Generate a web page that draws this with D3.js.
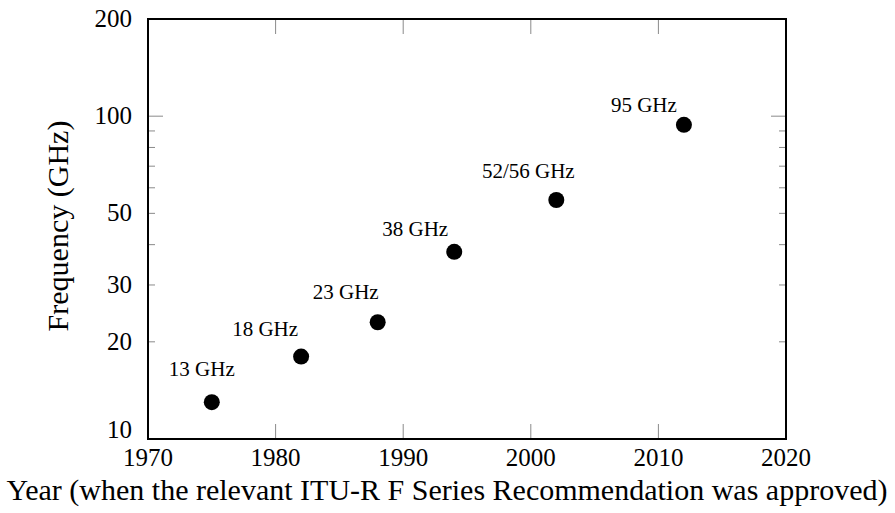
<!DOCTYPE html>
<html>
<head>
<meta charset="utf-8">
<script src="https://cdn.jsdelivr.net/npm/d3@7"></script>
<style>
  body { margin: 0; background: #fff; }
  text { font-family: "Liberation Serif", "Times New Roman", serif; fill: #000; }
</style>
</head>
<body>
<div id="chart"></div>
<script>
// Data
let years = [1975, 1982, 1988, 1994, 2002, 2012];
let freqs = [13, 18, 23, 38, 55, 94];
let labels = ["13 GHz", "18 GHz", "23 GHz", "38 GHz", "52/56 GHz", "95 GHz"];

let x_ticks = [1970, 1980, 1990, 2000, 2010, 2020];
let y_ticks = [10, 20, 30, 50, 100, 200];
let y_minor = [20, 30, 40, 50, 60, 70, 80, 90];
let y_major = [100];

// label placement relative to each point (center x, baseline y)
let label_dx = [-10, -36, -32, -39, -28, -40];
let label_dy = [-26, -21, -23, -16, -22, -13];

let width = 895;
let height = 513;
let margin = {top: 19, right: 109, bottom: 74, left: 148};

let svg = d3.select("#chart")
            .append("svg")
            .attr("width", width)
            .attr("height", height);

let x = d3.scaleLinear()
          .domain([1970, 2020])
          .range([margin.left, width - margin.right]);

let y = d3.scaleLog()
          .domain([10, 200])
          .range([height - margin.bottom, margin.top]);

let tick_color = "#8a8a8a";

// minor ticks (left and right)
svg.append("g")
   .selectAll("line")
   .data(y_minor)
   .join("line")
   .attr("x1", x(1970)).attr("x2", x(1970) + 7)
   .attr("y1", d => y(d)).attr("y2", d => y(d))
   .style("stroke", tick_color).style("stroke-width", 1);

svg.append("g")
   .selectAll("line")
   .data(y_minor)
   .join("line")
   .attr("x1", x(2020)).attr("x2", x(2020) - 7)
   .attr("y1", d => y(d)).attr("y2", d => y(d))
   .style("stroke", tick_color).style("stroke-width", 1);

// major y ticks
svg.append("g")
   .selectAll("line")
   .data(y_major)
   .join("line")
   .attr("x1", x(1970)).attr("x2", x(1970) + 15)
   .attr("y1", d => y(d)).attr("y2", d => y(d))
   .style("stroke", tick_color).style("stroke-width", 1);

svg.append("g")
   .selectAll("line")
   .data(y_major)
   .join("line")
   .attr("x1", x(2020)).attr("x2", x(2020) - 15)
   .attr("y1", d => y(d)).attr("y2", d => y(d))
   .style("stroke", tick_color).style("stroke-width", 1);

// x ticks (bottom and top)
let inner_x = x_ticks.slice(1, -1);

svg.append("g")
   .selectAll("line")
   .data(inner_x)
   .join("line")
   .attr("x1", d => x(d)).attr("x2", d => x(d))
   .attr("y1", y(10)).attr("y2", y(10) - 15)
   .style("stroke", tick_color).style("stroke-width", 1);

svg.append("g")
   .selectAll("line")
   .data(inner_x)
   .join("line")
   .attr("x1", d => x(d)).attr("x2", d => x(d))
   .attr("y1", y(200)).attr("y2", y(200) + 15)
   .style("stroke", tick_color).style("stroke-width", 1);

// frame
svg.append("rect")
   .attr("x", x(1970))
   .attr("y", y(200))
   .attr("width", x(2020) - x(1970))
   .attr("height", y(10) - y(200))
   .style("fill", "none")
   .style("stroke", "#000")
   .style("stroke-width", 2);

// tick labels
svg.append("g")
   .selectAll("text")
   .data(x_ticks)
   .join("text")
   .attr("x", d => x(d))
   .attr("y", y(10) + 27)
   .attr("text-anchor", "middle")
   .style("font-size", "25px")
   .text(d => d);

svg.append("g")
   .selectAll("text")
   .data(y_ticks)
   .join("text")
   .attr("x", x(1970) - 16)
   .attr("y", d => y(d) + (d === 10 ? -1 : 8))
   .attr("text-anchor", "end")
   .style("font-size", "25px")
   .text(d => d);

// points
let points = years.map((d, i) => ({year: d, freq: freqs[i], label: labels[i], dx: label_dx[i], dy: label_dy[i]}));

svg.append("g")
   .selectAll("circle")
   .data(points)
   .join("circle")
   .attr("cx", d => x(d.year))
   .attr("cy", d => y(d.freq))
   .attr("r", 8)
   .style("fill", "#000");

svg.append("g")
   .selectAll("text")
   .data(points)
   .join("text")
   .attr("x", d => x(d.year) + d.dx)
   .attr("y", d => y(d.freq) + d.dy)
   .attr("text-anchor", "middle")
   .style("font-size", "21px")
   .text(d => d.label);

// axis titles
svg.append("text")
   .attr("x", 447)
   .attr("y", 500)
   .attr("text-anchor", "middle")
   .style("font-size", "30px")
   .text("Year (when the relevant ITU-R F Series Recommendation was approved)");

svg.append("text")
   .attr("transform", "translate(68,226) rotate(-90)")
   .attr("text-anchor", "middle")
   .style("font-size", "30px")
   .text("Frequency (GHz)");
</script>
</body>
</html>
